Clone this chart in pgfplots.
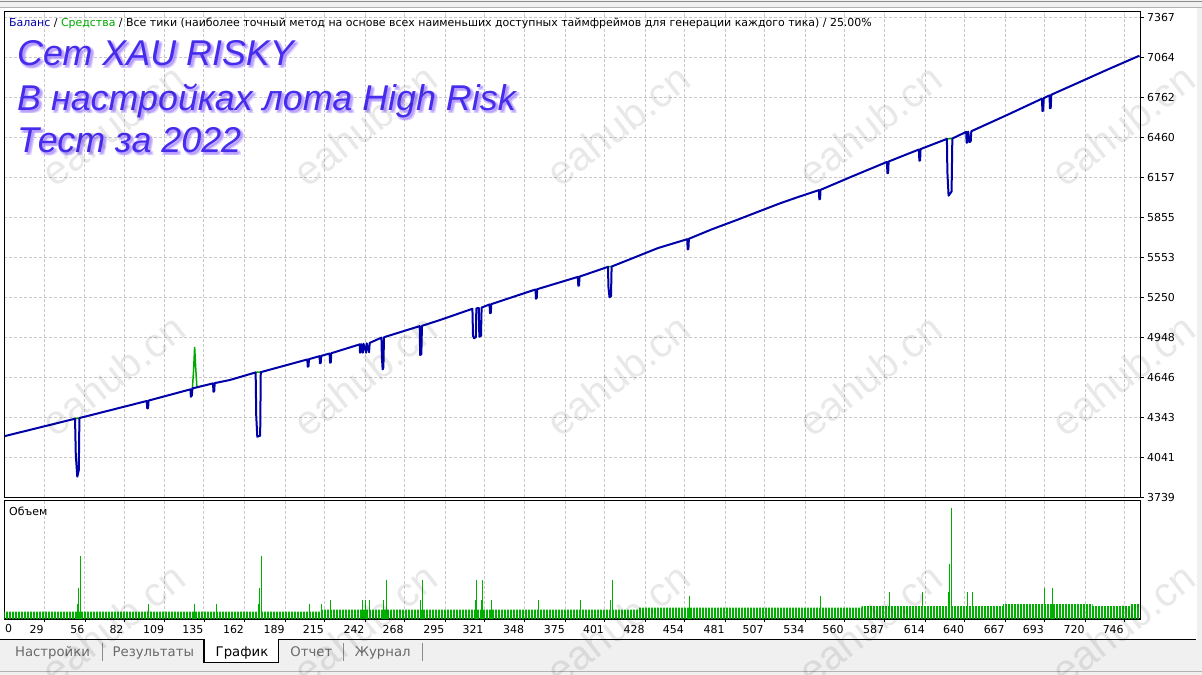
\documentclass[border=0pt]{standalone}
\usepackage{pgfplots}
\pgfplotsset{compat=1.18}
\usepackage{fontspec}
\setmainfont{Liberation Sans}
\newfontfamily\mtfont{DejaVu Sans}
\usetikzlibrary{patterns.meta}

\definecolor{balblue}{RGB}{0,0,168}
\definecolor{eqgreen}{RGB}{0,168,0}
\definecolor{volgreen}{RGB}{0,176,0}
\definecolor{gridgray}{RGB}{200,200,200}
\definecolor{panelgray}{RGB}{240,240,240}
\definecolor{titleblue}{RGB}{70,45,235}
\definecolor{titleglow}{RGB}{165,130,255}
\definecolor{tabgray}{RGB}{105,105,105}

\newcommand{\mt}{\mtfont\fontsize{11}{13}\selectfont}

% the three title lines, shifted by #1 right and #2 down
\newcommand{\titleblock}[3]{%
  \node[anchor=base west, inner sep=0pt, text=#3] at (17bp+#1,-65bp-#2) {Сет XAU RISKY};
  \node[anchor=base west, inner sep=0pt, text=#3] at (17bp+#1,-110bp-#2) {В настройках лота High Risk};
  \node[anchor=base west, inner sep=0pt, text=#3] at (17bp+#1,-152bp-#2) {Тест за 2022};
}

\begin{document}
\begin{tikzpicture}
\useasboundingbox (0,0) rectangle (1202bp,-675bp);
\fill[white] (0,0) rectangle (1202bp,-675bp);

% window frame
\fill[panelgray] (0,0) rectangle (1202bp,-8bp);
\draw[black!45, line width=1bp] (0,-1.5bp) -- (1202bp,-1.5bp);
\draw[black!30, line width=1bp] (0,-7bp) -- (1202bp,-7bp);
\fill[panelgray] (1197bp,-8bp) rectangle (1202bp,-675bp);

% tab bar
\fill[panelgray] (0,-639.5bp) rectangle (1202bp,-675bp);
\fill[white] (204bp,-639bp) rectangle (278.7bp,-662.7bp);
\draw[black, line width=1.2bp] (0,-639.5bp) -- (204bp,-639.5bp) -- (204bp,-662.7bp)
  -- (278.7bp,-662.7bp) -- (278.7bp,-639.5bp) -- (1196bp,-639.5bp);
\foreach \s in {102.7,343.3,422.7}
  \draw[black!45, line width=1bp] (\s bp,-643bp) -- (\s bp,-661bp);
\draw[black!30, line width=1.5bp] (0,-671.5bp) -- (1202bp,-671.5bp);
\begin{scope}[font=\mtfont\fontsize{13.3}{15}\selectfont]
  \node[anchor=base, text=tabgray] at (52.5bp,-656.7bp) {Настройки};
  \node[anchor=base, text=tabgray] at (153.3bp,-656.7bp) {Результаты};
  \node[anchor=base, text=black] at (242bp,-656.7bp) {График};
  \node[anchor=base, text=tabgray] at (311.3bp,-656.7bp) {Отчет};
  \node[anchor=base, text=tabgray] at (382.7bp,-656.7bp) {Журнал};
\end{scope}

% balance / equity panel
\begin{axis}[
  at={(4.3bp,-497.3bp)}, anchor=south west,
  scale only axis, width=1136.2bp, height=485.8bp,
  xmin=2.44, xmax=756.75, ymin=3739, ymax=7411,
  axis line style={line width=1.2bp},
  xtick={29,56,82,109,135,162,189,215,242,268,295,321,348,375,401,428,454,481,507,534,560,587,614,640,667,693,720,746},
  xticklabels={,,,,,,,,,,,,,,,,,,,,,,,,,,,},
  ytick={3739,4041.33,4343.67,4646,4948.33,5250.67,5553,5855.33,6157.67,6460,6762.33,7064.67,7367},
  yticklabels={3739,4041,4343,4646,4948,5250,5553,5855,6157,6460,6762,7064,7367},
  yticklabel pos=right, ytick pos=right,
  tick align=outside, major tick length=3bp,
  xtick style={draw=none}, ytick style={black, line width=0.8bp},
  grid=major,
  major grid style={gridgray, dash pattern=on 3bp off 2bp, line width=1bp},
  yticklabel style={font=\mt, anchor=west},
]
% equity above / beside the balance
\addplot[eqgreen, line width=1.5bp] coordinates {(127.3,4562) (128.1,4700) (128.8,4875) (129.5,4720) (130.3,4570)};
\addplot[eqgreen, line width=1.5bp] coordinates {(49.4,4335) (52.3,4338)};
\addplot[eqgreen, line width=1.5bp] coordinates {(169.3,4684) (172.7,4685)};
\addplot[eqgreen, line width=1.5bp] coordinates {(403.2,5481) (405.6,5483)};
\addplot[eqgreen, line width=1.5bp] coordinates {(628.2,6448) (631.8,6451)};
% balance with drawdowns
\addplot[balblue, line width=2bp, line join=round] coordinates {
  (2.9,4202)
  (49.4,4333) (49.9,4059) (50.9,3895) (51.9,3945) (52.3,4338)
  (97.0,4467) (97.3,4412) (97.9,4412) (98.2,4470)
  (126.0,4555) (126.3,4499) (127.0,4510) (127.3,4562)
  (141.0,4600) (141.3,4537) (141.8,4540) (142.1,4602)
  (152.3,4626)
  (169.3,4683) (169.7,4350) (170.4,4197) (172.3,4205) (172.7,4685)
  (203.6,4781) (203.9,4726) (204.4,4730) (204.7,4783)
  (211.7,4806) (212.0,4752) (212.5,4755) (212.8,4808)
  (218.4,4826) (218.7,4756) (219.2,4760) (219.5,4828)
  (238.4,4895) (238.6,4832) (239.0,4840) (239.3,4897) (240.4,4832) (240.9,4900)
  (242.6,4832) (243.0,4903) (244.6,4835) (245.0,4906)
  (252.8,4946) (253.1,4800) (253.6,4706) (254.1,4720) (254.5,4949)
  (278.2,5033) (278.5,4815) (279.3,4820) (279.7,5035)
  (291.7,5079)
  (313.2,5164) (313.6,4960) (314.3,4941) (315.5,4950) (315.8,5167)
  (317.4,5170) (317.8,4953) (318.9,4960) (319.3,5173)
  (324.6,5197) (324.9,5130) (325.4,5135) (325.7,5199)
  (355.1,5310) (355.4,5240) (355.9,5245) (356.2,5312)
  (383.2,5405) (383.5,5338) (384.0,5340) (384.3,5407)
  (403.2,5481) (403.5,5330) (404.2,5251) (405.2,5260) (405.6,5483)
  (436.4,5623)
  (455.8,5690) (456.1,5613) (456.6,5616) (456.9,5693)
  (472.0,5764)
  (488.7,5835)
  (503.0,5898)
  (517.4,5961)
  (530.0,6011)
  (543.2,6061) (543.5,5991) (544.0,5995) (544.3,6063)
  (566.0,6168)
  (588.4,6274) (588.7,6188) (589.2,6192) (589.5,6277)
  (609.6,6368) (609.9,6283) (610.4,6287) (610.7,6371)
  (628.2,6448) (628.5,6200) (629.3,6019) (631.3,6050) (631.8,6451)
  (641.0,6501) (641.3,6419) (641.9,6425) (642.3,6503) (643.3,6425) (644.0,6430) (644.4,6506)
  (668.0,6628)
  (691.3,6752) (691.6,6659) (692.1,6662) (692.5,6756) (696.3,6777) (696.6,6679) (697.1,6682) (697.5,6782)
  (716.6,6879)
  (736.0,6978)
  (756.0,7077)
};
\end{axis}

% volume panel
\begin{axis}[
  at={(4.3bp,-619bp)}, anchor=south west,
  scale only axis, width=1136.2bp, height=118.5bp,
  xmin=2.44, xmax=756.75, ymin=0, ymax=118.5,
  axis line style={line width=1.2bp},
  ytick=\empty,
  xtick={29,56,82,109,135,162,189,215,242,268,295,321,348,375,401,428,454,481,507,534,560,587,614,640,667,693,720,746},
  xticklabels={29,56,82,109,135,162,189,215,242,268,295,321,348,375,401,428,454,481,507,534,560,587,614,640,667,693,720,746},
  xtick pos=bottom, tick align=outside, major tick length=3bp,
  xtick style={black, line width=0.8bp},
  xmajorgrids,
  major grid style={gridgray, dash pattern=on 3bp off 2bp, line width=1bp},
  xticklabel style={font=\mt, anchor=north east, inner xsep=0pt, xshift=-0.5bp},
]
% base lot size, one thin bar per trade
\addplot[const plot, draw=none, pattern={Lines[angle=90, distance=1.5bp, line width=1bp]}, pattern color=volgreen]
  coordinates {(2.44,7.5) (212.5,9.5) (423.5,11.3) (571.5,13) (665.5,15) (725,13) (750,15) (756.75,15)} \closedcycle;
% larger volumes
\addplot[ycomb, volgreen, line width=1bp] coordinates {
  (51,15) (52,31) (53,63) (98,15) (129,15) (143,15) (171,15) (172,31) (173,63)
  (205,15) (213,15) (219,19) (240,19) (242,19) (245,19) (254,19) (256,39)
  (279,19) (280,39) (315,19) (316,39) (319,19) (320,39) (326,19) (357,19) (385,19)
  (405,19) (406,39) (457,23) (544,23) (590,27) (612,27) (629,27) (630,55) (631,111)
  (642,27) (645,27) (693,31) (698,31)
};
\end{axis}

\node[anchor=west, inner xsep=0pt] at (5bp,-628.7bp) {\mt 0};
\node[anchor=base west, inner sep=0pt] at (9bp,-515bp) {\mt Объем};

% header line
\node[anchor=base west, inner sep=0pt] at (9bp,-26.5bp) {\mt \textcolor{balblue}{Баланс} / \textcolor{eqgreen}{Средства} / Все тики (наиболее точный метод на основе всех наименьших доступных таймфреймов для генерации каждого тика) / 25.00\%};

% title with glow
\begin{scope}[font=\fontsize{36}{40}\selectfont\itshape, text opacity=0.35]
  \titleblock{2bp}{2.5bp}{titleglow}
  \titleblock{3bp}{1bp}{titleglow}
  \titleblock{1bp}{3.5bp}{titleglow}
  \titleblock{3.5bp}{3.5bp}{titleglow}
\end{scope}
\begin{scope}[font=\fontsize{36}{40}\selectfont\itshape]
  \titleblock{0bp}{0bp}{titleblue}
\end{scope}

% watermarks
\foreach \wx in {113,365,618,870,1123}
  \foreach \wy in {125,375,624}
    \node[rotate=38, text=black, text opacity=0.09, font=\fontsize{41}{41}\selectfont] at (\wx bp,-\wy bp) {eahub.cn};
\end{tikzpicture}
\end{document}
